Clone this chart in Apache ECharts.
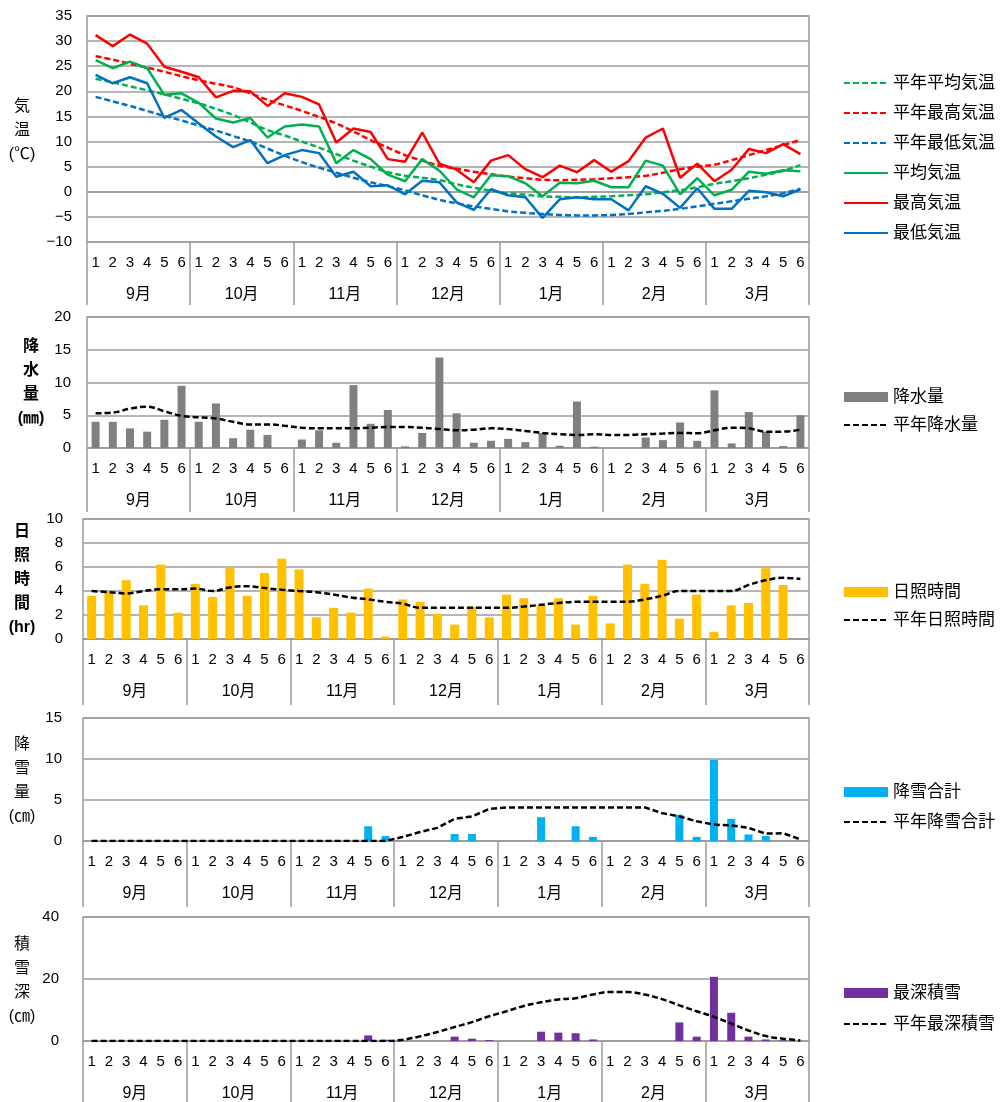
<!DOCTYPE html>
<html>
<head>
<meta charset="utf-8">
<script src="https://cdn.jsdelivr.net/npm/echarts@6/dist/echarts.min.js"></script>
<style>
  html, body { margin: 0; padding: 0; background: #fff; }
  #main { width: 1000px; height: 1102px; }
</style>
</head>
<body>
<div id="main"></div>
<script>
// 半旬ごとの値 (9月1半旬 〜 3月6半旬)
const months = ['9月', '10月', '11月', '12月', '1月', '2月', '3月'];
const pentads = ['1', '2', '3', '4', '5', '6'];

const tMax = [31.2, 29.0, 31.3, 29.5, 24.9, 23.9, 22.8, 18.8, 20.1, 20.0,
  17.1, 19.6, 18.9, 17.4, 9.8, 12.6, 11.9, 6.5, 6.0, 11.8,
  5.6, 4.4, 1.9, 6.2, 7.3, 4.5, 2.9, 5.2, 3.9, 6.3,
  4.0, 6.1, 10.8, 12.6, 2.8, 5.6, 2.1, 4.4, 8.5, 7.7, 9.5, 7.5];
const tAvg = [26.2, 24.6, 25.9, 24.6, 19.3, 19.6, 17.7, 14.6, 13.8, 14.7,
  10.8, 13.0, 13.4, 13.0, 5.7, 8.3, 6.5, 3.4, 2.1, 6.5,
  4.2, 0.5, -1.1, 3.3, 3.1, 1.7, -0.9, 1.8, 1.7, 2.2,
  0.9, 0.9, 6.2, 5.2, -0.5, 2.7, -0.7, 0.4, 4.0, 3.6, 4.3, 4.1];
const tMin = [23.3, 21.6, 22.8, 21.6, 14.7, 16.3, 13.6, 11.0, 8.9, 10.3,
  5.7, 7.3, 8.3, 7.7, 3.0, 4.0, 1.1, 1.3, -0.5, 2.2,
  1.9, -2.1, -3.6, 0.5, -0.7, -1.1, -5.2, -1.5, -1.1, -1.5,
  -1.5, -3.7, 1.1, -0.4, -3.2, 0.7, -3.4, -3.4, 0.2, -0.1, -0.9, 0.5];
const tMaxNormal = [27.0, 26.3, 25.5, 24.7, 23.9, 23.0, 22.2, 21.5, 20.8, 19.6,
  18.3, 17.2, 16.1, 14.9, 13.6, 12.0, 10.3, 8.8, 7.3, 6.2,
  5.2, 4.6, 4.0, 3.5, 3.0, 2.7, 2.4, 2.3, 2.4, 2.5,
  2.7, 2.9, 3.2, 3.8, 4.5, 5.0, 5.4, 6.3, 7.3, 8.3, 9.3, 10.3];
const tAvgNormal = [22.5, 21.8, 21.0, 20.2, 19.4, 18.5, 17.6, 16.5, 15.3, 13.8,
  12.3, 11.2, 10.0, 8.8, 7.5, 6.2, 5.0, 3.9, 3.2, 2.8,
  2.3, 1.5, 0.8, 0.2, -0.3, -0.6, -0.9, -1.0, -1.1, -1.0,
  -0.9, -0.7, -0.5, -0.1, 0.3, 0.9, 1.6, 2.1, 2.7, 3.4, 4.2, 5.3];
const tMinNormal = [18.9, 18.0, 17.1, 16.1, 15.1, 14.2, 13.2, 12.2, 11.1, 10.0,
  8.6, 7.2, 5.9, 4.8, 3.8, 2.8, 1.9, 1.1, 0.3, -0.7,
  -1.6, -2.3, -2.9, -3.4, -3.9, -4.2, -4.4, -4.6, -4.7, -4.7,
  -4.6, -4.4, -4.1, -3.8, -3.4, -2.9, -2.4, -1.9, -1.4, -0.9, -0.3, 0.6];

const precip = [4.0, 4.0, 3.0, 2.5, 4.3, 9.5, 4.0, 6.8, 1.5, 2.8,
  2.0, 0, 1.3, 2.7, 0.8, 9.6, 3.7, 5.8, 0.25, 2.3,
  13.8, 5.3, 0.8, 1.1, 1.4, 0.9, 2.3, 0.35, 7.1, 0.2,
  0, 0, 1.6, 1.2, 3.9, 1.1, 8.8, 0.7, 5.5, 2.5, 0.3, 5.0];
const precipNormal = [5.3, 5.4, 6.0, 6.3, 5.6, 4.9, 4.7, 4.5, 4.0, 3.6,
  3.6, 3.4, 3.1, 3.0, 3.0, 3.0, 3.1, 3.2, 3.2, 3.1,
  2.9, 2.7, 2.8, 3.0, 2.9, 2.6, 2.3, 2.1, 2.0, 2.1,
  2.0, 2.0, 2.1, 2.2, 2.3, 2.25, 2.7, 3.1, 3.0, 2.5, 2.5, 2.8];

const sunshine = [3.6, 4.0, 4.9, 2.8, 6.2, 2.2, 4.6, 3.5, 6.0, 3.6,
  5.5, 6.7, 5.8, 1.8, 2.6, 2.2, 4.2, 0.2, 3.3, 3.1,
  2.1, 1.2, 2.7, 1.8, 3.7, 3.4, 2.8, 3.4, 1.2, 3.6,
  1.3, 6.2, 4.6, 6.6, 1.7, 3.7, 0.6, 2.8, 3.0, 5.9, 4.5, null];
const sunshineNormal = [4.0, 3.9, 3.8, 4.0, 4.15, 4.15, 4.2, 4.0, 4.3, 4.4,
  4.25, 4.1, 4.0, 3.9, 3.7, 3.45, 3.3, 3.1, 2.95, 2.6,
  2.6, 2.6, 2.6, 2.6, 2.6, 2.7, 2.85, 3.0, 3.1, 3.1,
  3.1, 3.1, 3.3, 3.6, 4.0, 4.0, 4.0, 4.0, 4.5, 4.9, 5.1, 5.0];

const snowfall = [0, 0, 0, 0, 0, 0, 0, 0, 0, 0,
  0, 0, 0, 0, 0, 0, 1.8, 0.6, 0, 0,
  0, 0.85, 0.85, 0, 0, 0, 2.9, 0, 1.8, 0.5,
  0, 0, 0, 0, 3.2, 0.5, 9.9, 2.7, 0.8, 0.6, 0, 0];
const snowfallNormal = [0, 0, 0, 0, 0, 0, 0, 0, 0, 0,
  0, 0, 0, 0, 0, 0, 0, 0, 0.5, 1.1,
  1.6, 2.7, 3.0, 3.9, 4.1, 4.1, 4.1, 4.1, 4.1, 4.1,
  4.1, 4.1, 4.1, 3.4, 3.0, 2.4, 2.0, 1.9, 1.6, 0.9, 0.95, 0.2];

const snowDepth = [0, 0, 0, 0, 0, 0, 0, 0, 0, 0,
  0, 0, 0, 0, 0, 0, 1.8, 0.4, 0, 0,
  0, 1.4, 0.75, 0.3, 0, 0, 3.0, 2.7, 2.5, 0.5,
  0, 0, 0, 0, 6.0, 1.4, 20.7, 9.1, 1.4, 0.5, 0.2, 0];
const snowDepthNormal = [0, 0, 0, 0, 0, 0, 0, 0, 0, 0,
  0, 0, 0, 0, 0, 0, 0, 0, 0.4, 1.5,
  2.9, 4.5, 6.1, 8.0, 9.6, 11.3, 12.5, 13.4, 13.8, 15.0,
  15.8, 15.8, 15.0, 13.5, 11.5, 9.6, 7.8, 5.6, 3.4, 1.6, 0.75, 0.2];

const cats = [];
months.forEach(m => pentads.forEach(p => cats.push(m + '-' + p)));

const FONT = "'Liberation Sans', 'Noto Sans CJK JP', sans-serif";
const GRAY = '#9c9c9c';
const DASH = [6, 3];
const barNames = ['降水量', '日照時間', '降雪合計', '最深積雪'];

// 各パネルの配置
const panels = [
  { left: 87, top: 16, width: 722, height: 226, min: -10, max: 35, interval: 5, yMargin: 15, sep: 63 },
  { left: 87, top: 317, width: 722, height: 131, min: 0, max: 20, interval: 5, yMargin: 16, sep: 64 },
  { left: 83, top: 519, width: 726, height: 120, min: 0, max: 10, interval: 2, yMargin: 20, sep: 66 },
  { left: 83, top: 718, width: 726, height: 123, min: 0, max: 15, interval: 5, yMargin: 21, sep: 66 },
  { left: 83, top: 917, width: 726, height: 124, min: 0, max: 40, interval: 20, yMargin: 24, sep: 62 }
];

const grid = [], xAxis = [], yAxis = [];
panels.forEach((p, k) => {
  grid.push({ left: p.left, top: p.top, width: p.width, height: p.height,
    show: true, borderColor: GRAY, borderWidth: 1.5 });
  xAxis.push({
    type: 'category', gridIndex: k, data: cats, position: 'bottom', offset: 0,
    axisLine: { show: true, lineStyle: { color: GRAY, width: 1.5 } },
    axisTick: { show: false },
    axisLabel: { interval: 0, margin: 13, fontSize: 15, color: '#000', fontFamily: FONT,
      formatter: v => v.split('-')[1] },
    splitLine: { show: false }
  });
  xAxis.push({
    type: 'category', gridIndex: k, data: months, position: 'bottom', offset: 0,
    axisLine: { show: false },
    axisTick: { show: true, interval: 0, length: p.sep, lineStyle: { color: GRAY, width: 1.5 } },
    axisLabel: { interval: 0, margin: 45, fontSize: 16, color: '#000', fontFamily: FONT },
    splitLine: { show: false }
  });
  yAxis.push({
    type: 'value', gridIndex: k, min: p.min, max: p.max, interval: p.interval,
    axisLine: { show: false }, axisTick: { show: false },
    splitLine: { show: true, lineStyle: { color: GRAY, width: 1.5 } },
    axisLabel: { margin: p.yMargin, fontSize: 15, color: '#000', fontFamily: FONT,
      formatter: v => String(v).replace('-', '−') }
  });
});

function line(name, data, color, k, dashed, smooth) {
  return {
    name: name, type: 'line', data: data, xAxisIndex: 2 * k, yAxisIndex: k,
    symbol: 'none', smooth: smooth,
    lineStyle: { color: color, width: 2.5, type: dashed ? DASH : 'solid' },
    itemStyle: { color: color }
  };
}
function bar(name, data, color, k, w) {
  return {
    name: name, type: 'bar', data: data, xAxisIndex: 2 * k, yAxisIndex: k,
    barWidth: w, itemStyle: { color: color }
  };
}

const series = [
  line('平年平均気温', tAvgNormal, '#00b050', 0, true, 0.4),
  line('平年最高気温', tMaxNormal, '#ff0000', 0, true, 0.4),
  line('平年最低気温', tMinNormal, '#0070c0', 0, true, 0.4),
  line('平均気温', tAvg, '#00b050', 0, false, false),
  line('最高気温', tMax, '#ff0000', 0, false, false),
  line('最低気温', tMin, '#0070c0', 0, false, false),
  bar('降水量', precip, '#808080', 1, 8),
  line('平年降水量', precipNormal, '#000', 1, true, 0.4),
  bar('日照時間', sunshine, '#ffc000', 2, 9),
  line('平年日照時間', sunshineNormal, '#000', 2, true, 0.4),
  bar('降雪合計', snowfall, '#00b0f0', 3, 8),
  line('平年降雪合計', snowfallNormal, '#000', 3, true, false),
  bar('最深積雪', snowDepth, '#7030a0', 4, 8),
  line('平年最深積雪', snowDepthNormal, '#000', 4, true, 0.4)
];

function legend(names, top, gap) {
  return {
    orient: 'vertical', left: 838, top: top, itemWidth: 44, itemHeight: 10, itemGap: gap,
    selectedMode: false,
    textStyle: { fontSize: 17, lineHeight: 18, color: '#000', fontFamily: FONT },
    data: names.map(n => barNames.indexOf(n) >= 0
      ? { name: n, icon: 'rect' }
      : { name: n, itemStyle: { opacity: 0 } })
  };
}

function yTitle(text, x, y, bold) {
  return {
    type: 'text', x: x, y: y,
    style: { text: text, align: 'center', verticalAlign: 'middle', lineHeight: 24,
      fontSize: 16, fontWeight: bold ? 'bold' : 'normal', fontFamily: FONT, fill: '#000' }
  };
}

const option = {
  animation: false,
  backgroundColor: '#fff',
  grid: grid, xAxis: xAxis, yAxis: yAxis, series: series,
  legend: [
    legend(['平年平均気温', '平年最高気温', '平年最低気温', '平均気温', '最高気温', '最低気温'], 69, 12),
    legend(['降水量', '平年降水量'], 383, 10),
    legend(['日照時間', '平年日照時間'], 578, 10),
    legend(['降雪合計', '平年降雪合計'], 778, 12),
    legend(['最深積雪', '平年最深積雪'], 979, 13)
  ],
  graphic: [
    yTitle('気\n温\n(℃)', 22, 131, false),
    yTitle('降\n水\n量\n(㎜)', 31, 383, true),
    yTitle('日\n照\n時\n間\n(hr)', 22, 580, true),
    yTitle('降\n雪\n量\n(㎝)', 22, 781, false),
    yTitle('積\n雪\n深\n(㎝)', 22, 981, false)
  ]
};

const chart = echarts.init(document.getElementById('main'));
chart.setOption(option);
</script>
</body>
</html>
